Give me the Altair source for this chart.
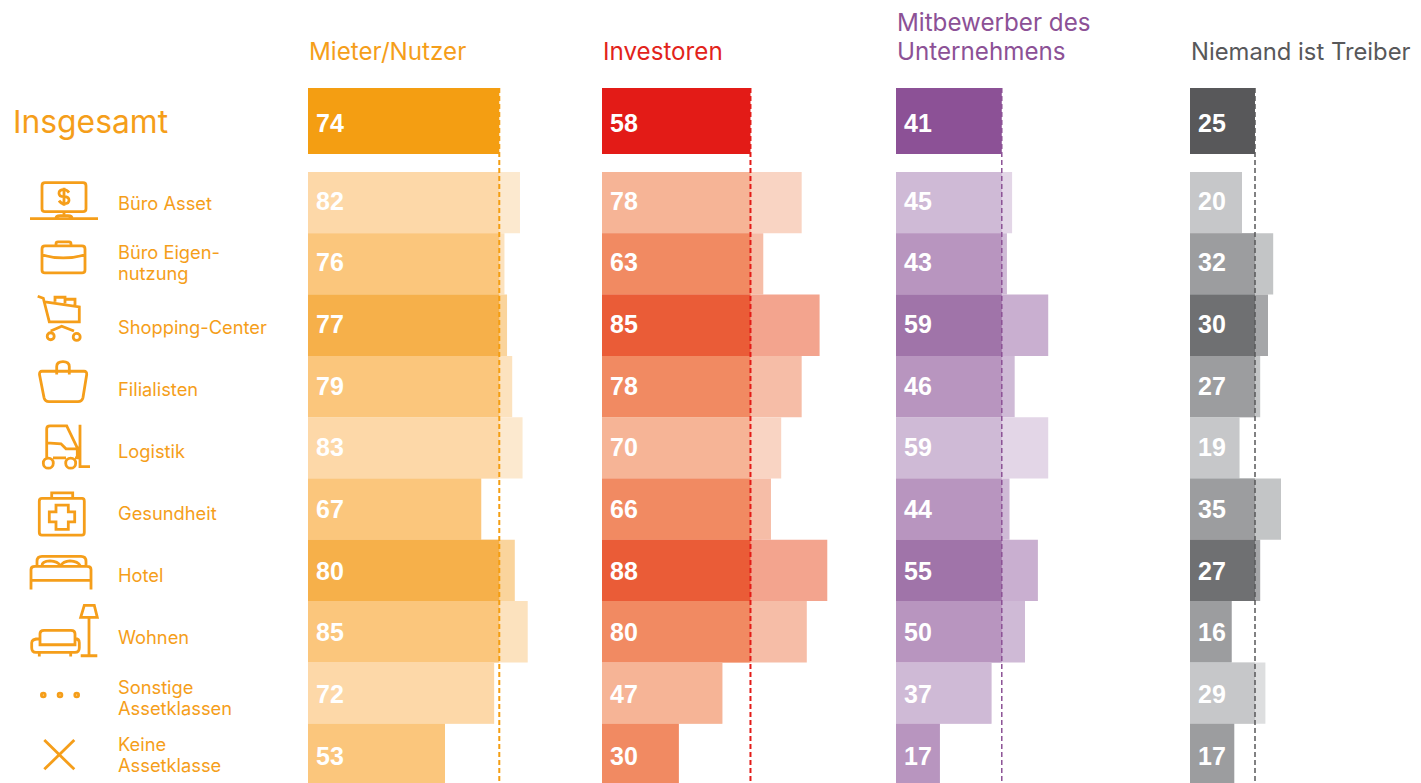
import altair as alt
import pandas as pd

rows = ["Büro Asset", "Büro Eigen-\nnutzung", "Shopping-Center", "Filialisten", "Logistik",
        "Gesundheit", "Hotel", "Wohnen", "Sonstige\nAssetklassen", "Keine\nAssetklasse"]
tiers = ["L", "M", "D", "M", "L", "M", "D", "M", "L", "M"]
tier_order = ["L", "M", "D"]

headers = ["Mieter/Nutzer", "Investoren", "Mitbewerber des\nUnternehmens", "Niemand ist Treiber"]
header_sizes = [24.2, 24.2, 24.2, 23.8]
overall = [74, 58, 41, 25]
mieter = [82, 76, 77, 79, 83, 67, 80, 85, 72, 53]
investoren = [78, 63, 85, 78, 70, 66, 88, 80, 47, 30]
mitbewerber = [45, 43, 59, 46, 59, 44, 55, 50, 37, 17]
niemand = [20, 32, 30, 27, 19, 35, 27, 16, 29, 17]
series = [mieter, investoren, mitbewerber, niemand]

full_colors = ["#F49E12", "#E31B17", "#8C5196", "#58585A"]
head_colors = ["#F59E1A", "#E2231A", "#8C5196", "#58585A"]
tier_colors = [["#FDD8A8", "#FBC67C", "#F6B04A"],
               ["#F6B496", "#F18A62", "#EA5C37"],
               ["#CFBAD6", "#B895BF", "#A074A9"],
               ["#C6C7C9", "#9C9D9F", "#6F7072"]]
over_colors = [["#FCE9CF", "#FCE2BE", "#FAD49C"],
               ["#F9D4C3", "#F6BDA7", "#F3A48E"],
               ["#E3D6E7", "#CFBAD6", "#C9AFD0"],
               ["#DDDEDF", "#C3C5C6", "#A5A6A8"]]
dash_widths = [2, 2, 1.5, 1.5]
px_per_unit = [2.585, 2.56, 2.58, 2.6]
panel_widths = [294, 294, 294, 223]

FONT = "Inter"
NUM_FONT = "Liberation Sans"
ORANGE = "#F59E1A"

icons = [
    "M-19,-20H19Q22,-20 22,-17V6Q22,9 19,9H-19Q-22,9 -22,6V-17Q-22,-20 -19,-20Z"
    "M0,9V14M-8,15.5Q-8,13 -4,13H4Q8,13 8,15.5M-34,16H34"
    "M5,-10Q3,-13 0,-13Q-5,-13 -5,-9.5Q-5,-6 0,-6Q5,-6 5,-2.5Q5,1 0,1Q-3,1 -5,-2M0,-15V3",
    "M-19,-18H18Q21,-18 21,-15V6Q21,9 18,9H-19Q-22,9 -22,6V-15Q-22,-18 -19,-18Z"
    "M-8,-18V-20Q-8,-22 -6,-22H5Q7,-22 7,-20V-18M-22,-9Q-1,-3 21,-9",
    "M-26.3,-29L-20.7,-27L-14.7,-3.3H15.3V-18.3L-19,-23.3"
    "M-9,-23.5V-28H1V-22M1,-26H11V-19.5M-13.3,5.7L-2.3,1L10,5.7"
    "M-9.8,11A3.5,3.5 0 1,1 -16.8,11A3.5,3.5 0 1,1 -9.8,11Z"
    "M16.2,11.7A3.5,3.5 0 1,1 9.2,11.7A3.5,3.5 0 1,1 16.2,11.7Z",
    "M-22,-15.3H20Q23,-15.3 22.7,-12L19,11Q18,15 14,15H-15Q-19,15 -20,11L-24.5,-12Q-24.7,-15.3 -22,-15.3Z"
    "M-7.3,-12V-20Q-7.3,-25 -1,-25Q5.3,-25 5.3,-20V-12",
    "M-17.3,10V-19Q-17.3,-22 -14,-22H2.7L13.3,0H16M-17.3,-5L-3,-4L2,1H13.3V10H11M-11,10H2"
    "M-10.7,15.3A5,5 0 1,1 -20.7,15.3A5,5 0 1,1 -10.7,15.3Z"
    "M11.7,15.3A5,5 0 1,1 1.7,15.3A5,5 0 1,1 11.7,15.3Z"
    "M16,-23V18.7H26",
    "M-22,-10.7H18Q20.3,-10.7 20.3,-8V23Q20.3,26 18,26H-22Q-24.7,26 -24.7,23V-8Q-24.7,-10.7 -22,-10.7Z"
    "M-12.3,-10.7V-16.3H8.7V-10.7"
    "M-8,-4H4.3V2.7H10.7V12.7H4.3V20.3H-8V12.7H-14.7V2.7H-8Z",
    "M-33,19V-1Q-33,-4 -29,-4H23Q27,-4 27,-1V19M-33,10H27"
    "M-27,-5V-9Q-27,-14 -22,-14H17Q22,-14 22,-9V-5"
    "M-22,-5Q-22,-9 -14,-9.5Q-6,-9 -4,-5M-3,-5Q-1,-9 6,-9.5Q14,-9 16,-5",
    "M-28,20.7H11Q15.3,20.7 15.3,16V11Q15.3,7 11,7V13H-24V7Q-32.3,7 -32.3,11V16Q-32.3,20.7 -28,20.7Z"
    "M-24,7V2Q-24,-1.3 -20,-1.3H7Q11,-1.3 11,2V7M-24.7,20.7V24.7M6.7,20.7V24.7"
    "M25,-14V24M16.7,24H33.3M20.3,-26.3H30.3L33.3,-14.3H16.7Z",
    "M-18.8,2A1.9,1.9 0 1,1 -22.6,2A1.9,1.9 0 1,1 -18.8,2Z"
    "M-2.1,2A1.9,1.9 0 1,1 -5.9,2A1.9,1.9 0 1,1 -2.1,2Z"
    "M14.6,2A1.9,1.9 0 1,1 10.8,2A1.9,1.9 0 1,1 14.6,2Z",
    "M-19.7,-14.4L10.3,15M10.3,-14.4L-19.7,15",
]

PANEL_H = 777
ROW_RANGE = [164, 777]
NUM_RANGE = [162.65, 779.65]
LABEL_RANGE = [166, 786]
TOP_RANGE = [80, 146]
TOP_NUM_RANGE = [83, 149]
MULTILINE_DY = {"Büro Eigen-\nnutzung": -13, "Sonstige\nAssetklassen": -12, "Keine\nAssetklasse": -17}


def y_rows(rng=ROW_RANGE):
    return alt.Y("row:N", axis=None, sort=rows,
                 scale=alt.Scale(domain=rows, range=rng, paddingInner=0, paddingOuter=0))


def y_top(rng=TOP_RANGE):
    return alt.Y("row:N", axis=None,
                 scale=alt.Scale(domain=["Insgesamt"], range=rng, paddingInner=0, paddingOuter=0))


def panel(i):
    table = pd.DataFrame({"row": rows, "tier": tiers, "value": series[i]})
    table["overall"] = overall[i]
    table["inner"] = table[["value", "overall"]].min(axis=1)
    top = pd.DataFrame({"row": ["Insgesamt"], "value": [overall[i]]})
    xs = alt.Scale(domain=[0, panel_widths[i] / px_per_unit[i]], nice=False, zero=True)
    x = lambda f: alt.X(f"{f}:Q", axis=None, scale=xs)

    def tier_color(palette):
        return alt.Color("tier:N", legend=None, scale=alt.Scale(domain=tier_order, range=palette))

    base = alt.Chart(table)
    num = dict(align="left", baseline="middle", dx=8, font=NUM_FONT, fontSize=25, fontWeight="bold", color="white")
    layers = [
        base.mark_bar().encode(x=x("value"), y=y_rows(), color=tier_color(over_colors[i])),
        base.mark_bar().encode(x=x("inner"), y=y_rows(), color=tier_color(tier_colors[i])),
        alt.Chart(top).mark_bar(color=full_colors[i]).encode(x=x("value"), y=y_top()),
        alt.Chart(pd.DataFrame({"overall": [overall[i]]})).mark_rule(
            color=full_colors[i], strokeDash=[5, 3], strokeWidth=dash_widths[i]
        ).encode(x=x("overall"), y=alt.value(TOP_RANGE[0]), y2=alt.value(PANEL_H)),
        base.mark_text(**num).encode(x=alt.value(0), y=y_rows(NUM_RANGE), text="value:Q"),
        alt.Chart(top).mark_text(**num).encode(x=alt.value(0), y=y_top(TOP_NUM_RANGE), text="value:Q"),
        alt.Chart(pd.DataFrame({"t": [headers[i]]})).mark_text(
            align="left", baseline="bottom", font=FONT, fontSize=header_sizes[i], lineBreak="\n", lineHeight=29,
            color=head_colors[i], dx=1, dy=-29 * headers[i].count("\n")
        ).encode(x=alt.value(0), y=alt.value(57), text="t:N"),
    ]
    return alt.layer(*layers).resolve_scale(y="independent", color="independent").properties(
        width=panel_widths[i], height=PANEL_H)


left_table = pd.DataFrame({"row": rows})
label_style = dict(align="left", baseline="middle", font=FONT, fontSize=18.3, lineBreak="\n",
                   lineHeight=21, color=ORANGE)
single = left_table[~left_table["row"].str.contains("\n")]
left_layers = [
    alt.Chart(left_table).mark_point(filled=False, color=ORANGE, strokeWidth=2.8, opacity=1, size=4).encode(
        x=alt.value(56), y=y_rows(),
        shape=alt.Shape("row:N", legend=None, scale=alt.Scale(domain=rows, range=icons))),
    alt.Chart(single).mark_text(**label_style).encode(x=alt.value(110), y=y_rows(LABEL_RANGE), text="row:N"),
    alt.Chart(pd.DataFrame({"t": ["Insgesamt"]})).mark_text(
        align="left", baseline="middle", font=FONT, fontSize=31.8, color=ORANGE).encode(
        x=alt.value(5), y=alt.value(115), text="t:N"),
]
for name, dy in MULTILINE_DY.items():
    left_layers.append(
        alt.Chart(left_table[left_table["row"] == name]).mark_text(dy=dy, **label_style).encode(
            x=alt.value(110), y=y_rows(LABEL_RANGE), text="row:N"))
left = alt.layer(*left_layers).resolve_scale(y="independent").properties(width=300, height=PANEL_H)

chart = alt.hconcat(left, *[panel(i) for i in range(4)], spacing=0, padding=0,
                    background="white").configure_view(stroke=None)

chart.save("out.html", embed_options={"renderer": "svg", "actions": False})
